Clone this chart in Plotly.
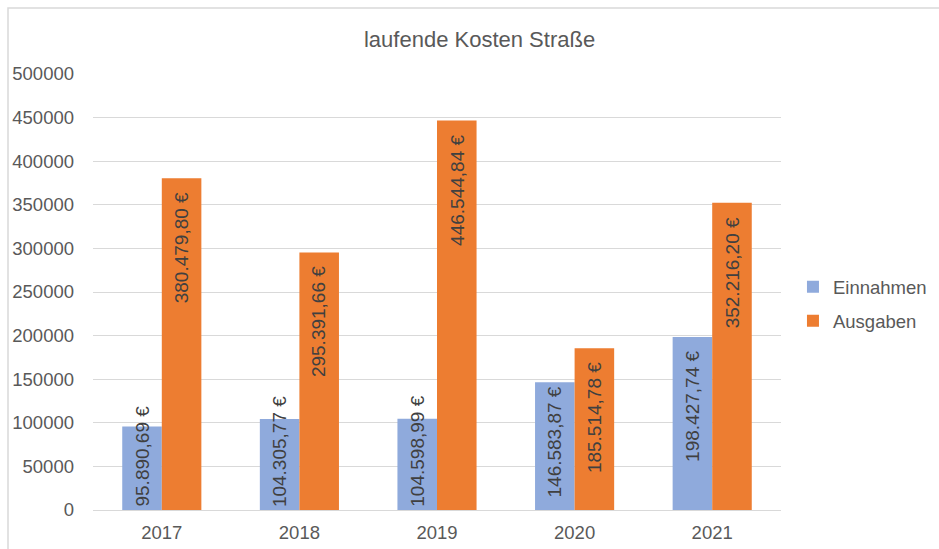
import plotly.graph_objects as go

years = ["2017", "2018", "2019", "2020", "2021"]
einnahmen = [95890.69, 104305.77, 104598.99, 146583.87, 198427.74]
ausgaben = [380479.80, 295391.66, 446544.84, 185514.78, 352216.20]
series_names = ["Einnahmen", "Ausgaben"]
colors = ["#8FAADC", "#ED7D31"]
y_ticks = list(range(0, 500001, 50000))

def fmt_eur(v):
    s = f"{v:,.2f}"  # 1,234.56
    s = s.replace(",", "X").replace(".", ",").replace("X", ".")
    return s + " €"

TXT = "#595959"
FONT = "Liberation Sans, Arial, sans-serif"
BARGAP = 0.425

fig = go.Figure()
for name, vals, col in zip(series_names, [einnahmen, ausgaben], colors):
    fig.add_trace(go.Bar(x=years, y=vals, name=name, legendgroup=name,
                         marker=dict(color=col, line=dict(width=0)),
                         hoverinfo="skip"))

# data labels (inside end; bottom-anchored when the bar is too short)
annotations = []
for si, vals in enumerate([einnahmen, ausgaben]):
    offset = (-0.5 + si) * (1 - BARGAP) / 2
    for i, v in enumerate(vals):
        fits = v > 120000
        tight = v < 160000
        annotations.append(dict(
            x=i + offset, y=v if fits else 0, xref="x", yref="y",
            text=fmt_eur(v), textangle=-90, showarrow=False,
            yanchor="top" if fits else "bottom",
            yshift=(-2 if tight else -12) if fits else 1,
            font=dict(family=FONT, size=19, color="#404040"),
        ))

fig.update_layout(
    width=939, height=549,
    margin=dict(l=93, r=158, t=74, b=39, autoexpand=False),
    paper_bgcolor="white", plot_bgcolor="white",
    barmode="group", bargap=BARGAP, bargroupgap=0,
    font=dict(family=FONT, size=18.5, color=TXT),
    title=dict(text="laufende Kosten Straße", x=0.5107, xanchor="center",
               y=0.929, yanchor="middle", xref="container", yref="container",
               font=dict(family=FONT, size=22, color=TXT)),
    legend=dict(x=1.0174, y=0.472, xanchor="left", yanchor="middle",
                font=dict(family=FONT, size=18.5, color=TXT),
                bgcolor="rgba(0,0,0,0)", itemwidth=30, tracegroupgap=7,
                traceorder="grouped"),
    xaxis=dict(type="category", showgrid=False, showline=True, linecolor="#D9D9D9",
               linewidth=1, ticks="", tickfont=dict(size=18.5, color=TXT),
               ticklabelstandoff=6, range=[-0.5, 4.5], automargin=False),
    yaxis=dict(range=[0, 500000], tickvals=y_ticks, tickformat="d",
               showgrid=True, gridcolor="#D9D9D9", gridwidth=1, zeroline=False,
               showline=False, ticks="", ticklabelstandoff=18, automargin=False,
               tickfont=dict(size=18.5, color=TXT)),
    annotations=annotations,
    showlegend=True,
)

# chart border (light gray frame)
fig.add_shape(type="rect", xref="paper", yref="paper",
              x0=(8 - 93) / 688, x1=(950 - 93) / 688,
              y0=(510 - 560) / 436, y1=(510 - 8) / 436,
              line=dict(color="#D9D9D9", width=1.5), fillcolor="rgba(0,0,0,0)", layer="below")

fig.write_html("out.html", config={"displayModeBar": False},
               post_script="document.body.style.margin='0';")
